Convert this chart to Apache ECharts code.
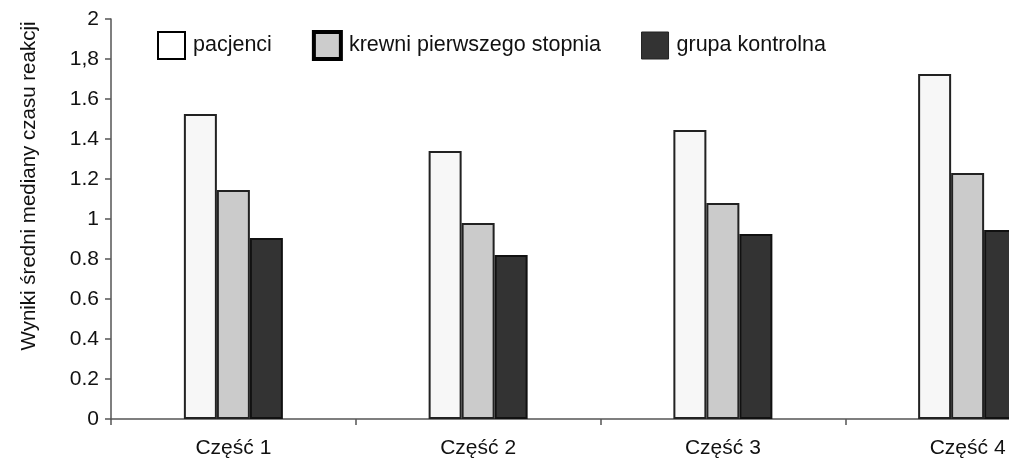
<!DOCTYPE html>
<html>
<head>
<meta charset="utf-8">
<script src="https://cdn.jsdelivr.net/npm/echarts@6/dist/echarts.min.js"></script>
<style>
html,body{margin:0;padding:0;background:#fff;}
#chart{width:1009px;height:461px;}
</style>
</head>
<body>
<div id="chart"></div>
<script>
const categories = ['Część 1', 'Część 2', 'Część 3', 'Część 4'];
const seriesNames = ['pacjenci', 'krewni pierwszego stopnia', 'grupa kontrolna'];
const pacjenci = [1.525, 1.34, 1.445, 1.725];
const krewni = [1.145, 0.98, 1.08, 1.23];
const kontrolna = [0.905, 0.82, 0.925, 0.945];
const yTickLabels = ['0', '0.2', '0.4', '0.6', '0.8', '1', '1.2', '1.4', '1.6', '1,8', '2'];
const yAxisTitle = 'Wyniki średni mediany czasu reakcji';

const FONT = '"Liberation Sans", Arial, sans-serif';
const chart = echarts.init(document.getElementById('chart'), null, {renderer: 'canvas'});

const styles = [
  {color: '#f7f7f7', borderColor: '#222', borderWidth: 2},
  {color: '#cbcbcb', borderColor: '#222', borderWidth: 2},
  {color: '#333333', borderColor: '#111', borderWidth: 2}
];
const legendIcon = [
  {color: '#ffffff', borderColor: '#000', borderWidth: 2},
  {color: '#cccccc', borderColor: '#000', borderWidth: 4},
  {color: '#333333', borderColor: '#222', borderWidth: 1}
];
const legendPad = [[0, 13, 0, 3], [0, 0, 0, 3], [0, 0, 0, 3]];
const data = [pacjenci, krewni, kontrolna];

chart.setOption({
  backgroundColor: '#ffffff',
  animation: false,
  grid: {left: 111, right: -81, top: 19, bottom: 42, containLabel: false, outerBoundsMode: 'none'},
  legend: {
    left: 152, top: 25,
    itemWidth: 27, itemHeight: 27, itemGap: 40,
    textStyle: {fontFamily: FONT, fontSize: 21.5, color: '#111'},
    data: seriesNames.map((n, i) => ({name: n, icon: 'rect',
      itemStyle: legendIcon[i],
      textStyle: {fontFamily: FONT, fontSize: 21.5, color: '#111', padding: legendPad[i]}}))
  },
  graphic: [{
    type: 'text', x: 29, y: 186, rotation: Math.PI / 2,
    style: {text: yAxisTitle, fontFamily: FONT, fontSize: 20.5, fill: '#111', align: 'center', verticalAlign: 'middle'}
  }],
  xAxis: {
    type: 'category', data: categories,
    axisLine: {lineStyle: {color: '#555', width: 1.5}},
    axisTick: {show: true, length: 6, lineStyle: {color: '#555', width: 1.5}},
    axisLabel: {fontFamily: FONT, fontSize: 21, color: '#111', margin: 19}
  },
  yAxis: {
    type: 'value', min: 0, max: 2, interval: 0.2,
    axisLine: {show: true, lineStyle: {color: '#555', width: 1.5}},
    axisTick: {show: true, length: 6, lineStyle: {color: '#555', width: 1.5}},
    splitLine: {show: false},
    axisLabel: {fontFamily: FONT, fontSize: 21, color: '#111', margin: 12,
      formatter: (v) => yTickLabels[Math.round(v / 0.2)]}
  },
  series: seriesNames.map((n, i) => ({
    name: n, type: 'bar', data: data[i], barWidth: 33, barGap: '0%',
    itemStyle: styles[i]
  }))
});
</script>
</body>
</html>
